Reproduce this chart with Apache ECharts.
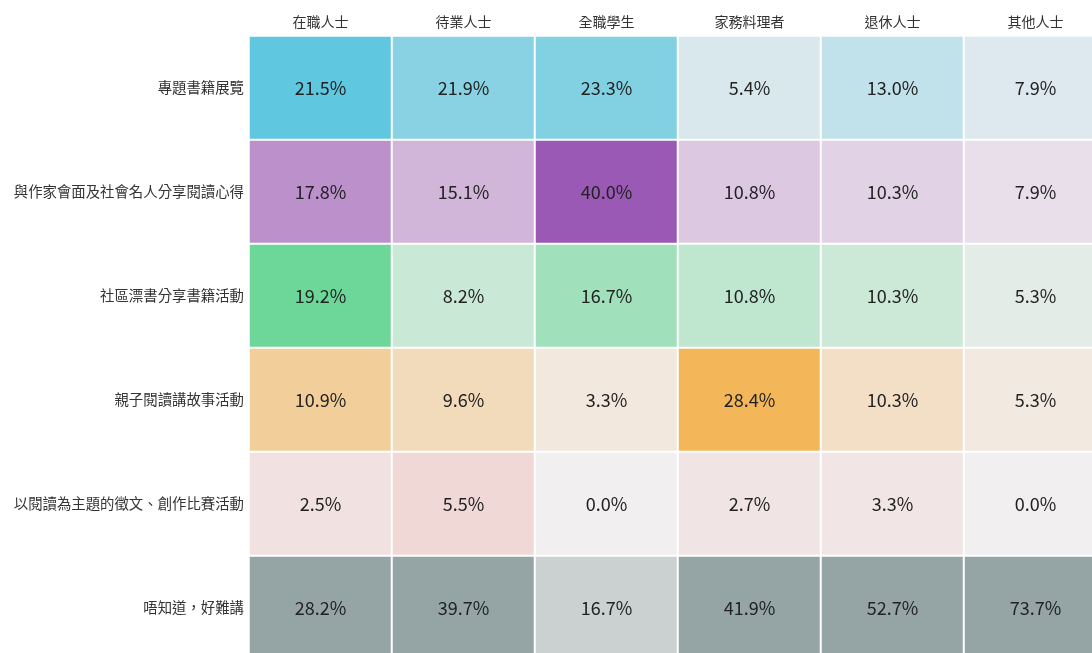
<!DOCTYPE html>
<html>
<head>
<meta charset="utf-8">
<script src="https://cdn.jsdelivr.net/npm/echarts@6/dist/echarts.min.js"></script>
<style>
  html, body { margin: 0; padding: 0; background: #fff; }
  #chart { width: 1092px; height: 653px; }
</style>
</head>
<body>
<div id="chart"></div>
<script>
// 職業類別（欄）
const groups = ["在職人士", "待業人士", "全職學生", "家務料理者", "退休人士", "其他人士"];
// 活動（列）
const activities = [
  "專題書籍展覽",
  "與作家會面及社會名人分享閱讀心得",
  "社區漂書分享書籍活動",
  "親子閱讀講故事活動",
  "以閱讀為主題的徵文、創作比賽活動",
  "唔知道，好難講"
];

// 每列數值（%），依 groups 順序
const exhibition = [21.5, 21.9, 23.3, 5.4, 13.0, 7.9];
const authorTalk = [17.8, 15.1, 40.0, 10.8, 10.3, 7.9];
const bookCrossing = [19.2, 8.2, 16.7, 10.8, 10.3, 5.3];
const parentChild = [10.9, 9.6, 3.3, 28.4, 10.3, 5.3];
const essayContest = [2.5, 5.5, 0.0, 2.7, 3.3, 0.0];
const dontKnow = [28.2, 39.7, 16.7, 41.9, 52.7, 73.7];

const rows = [exhibition, authorTalk, bookCrossing, parentChild, essayContest, dontKnow];

// 每列的主色
const rowColors = ["#31bbda", "#9b59b6", "#2ecc71", "#f39c12", "#e74c3c", "#95a5a6"];
const lowColor = "#f2eff0";

const hexToRgb = (h) => [1, 3, 5].map((i) => parseInt(h.substr(i, 2), 16));
const mix = (a, b, t) => {
  const ca = hexToRgb(a), cb = hexToRgb(b);
  const c = ca.map((v, i) => Math.round(v + (cb[i] - v) * t));
  return "rgb(" + c.join(",") + ")";
};

// 以每欄最大值作深淺比例
const colMax = groups.map((g, c) => Math.max(...rows.map((r) => r[c])));

const data = [];
rows.forEach((r, ri) => {
  r.forEach((v, ci) => {
    data.push({
      value: [ci, ri, v],
      itemStyle: { color: mix(lowColor, rowColors[ri], colMax[ci] ? v / colMax[ci] : 0) }
    });
  });
});

const chart = echarts.init(document.getElementById("chart"));
const font = "'Noto Sans CJK TC', 'Noto Sans', sans-serif";

chart.setOption({
  animation: false,
  textStyle: { fontFamily: font },
  // 表格超出畫面右邊和下邊
  grid: { left: 249, top: 36, width: 858, height: 624, outerBoundsMode: "none", containLabel: false },
  xAxis: {
    type: "category",
    position: "top",
    data: groups,
    axisLine: { show: false },
    axisTick: { show: false },
    splitArea: { show: false },
    axisLabel: { color: "#333", fontSize: 14, margin: 7, fontFamily: font }
  },
  yAxis: {
    type: "category",
    inverse: true,
    data: activities,
    axisLine: { show: false },
    axisTick: { show: false },
    axisLabel: { color: "#333", fontSize: 14.4, margin: 5, fontFamily: font }
  },
  series: [{
    type: "heatmap",
    data: data,
    itemStyle: { borderColor: "#fff", borderWidth: 2 },
    label: {
      show: true,
      color: "#222",
      fontSize: 18,
      fontFamily: font,
      formatter: (p) => p.value[2].toFixed(1) + "%"
    },
    emphasis: { disabled: true }
  }]
});
</script>
</body>
</html>
